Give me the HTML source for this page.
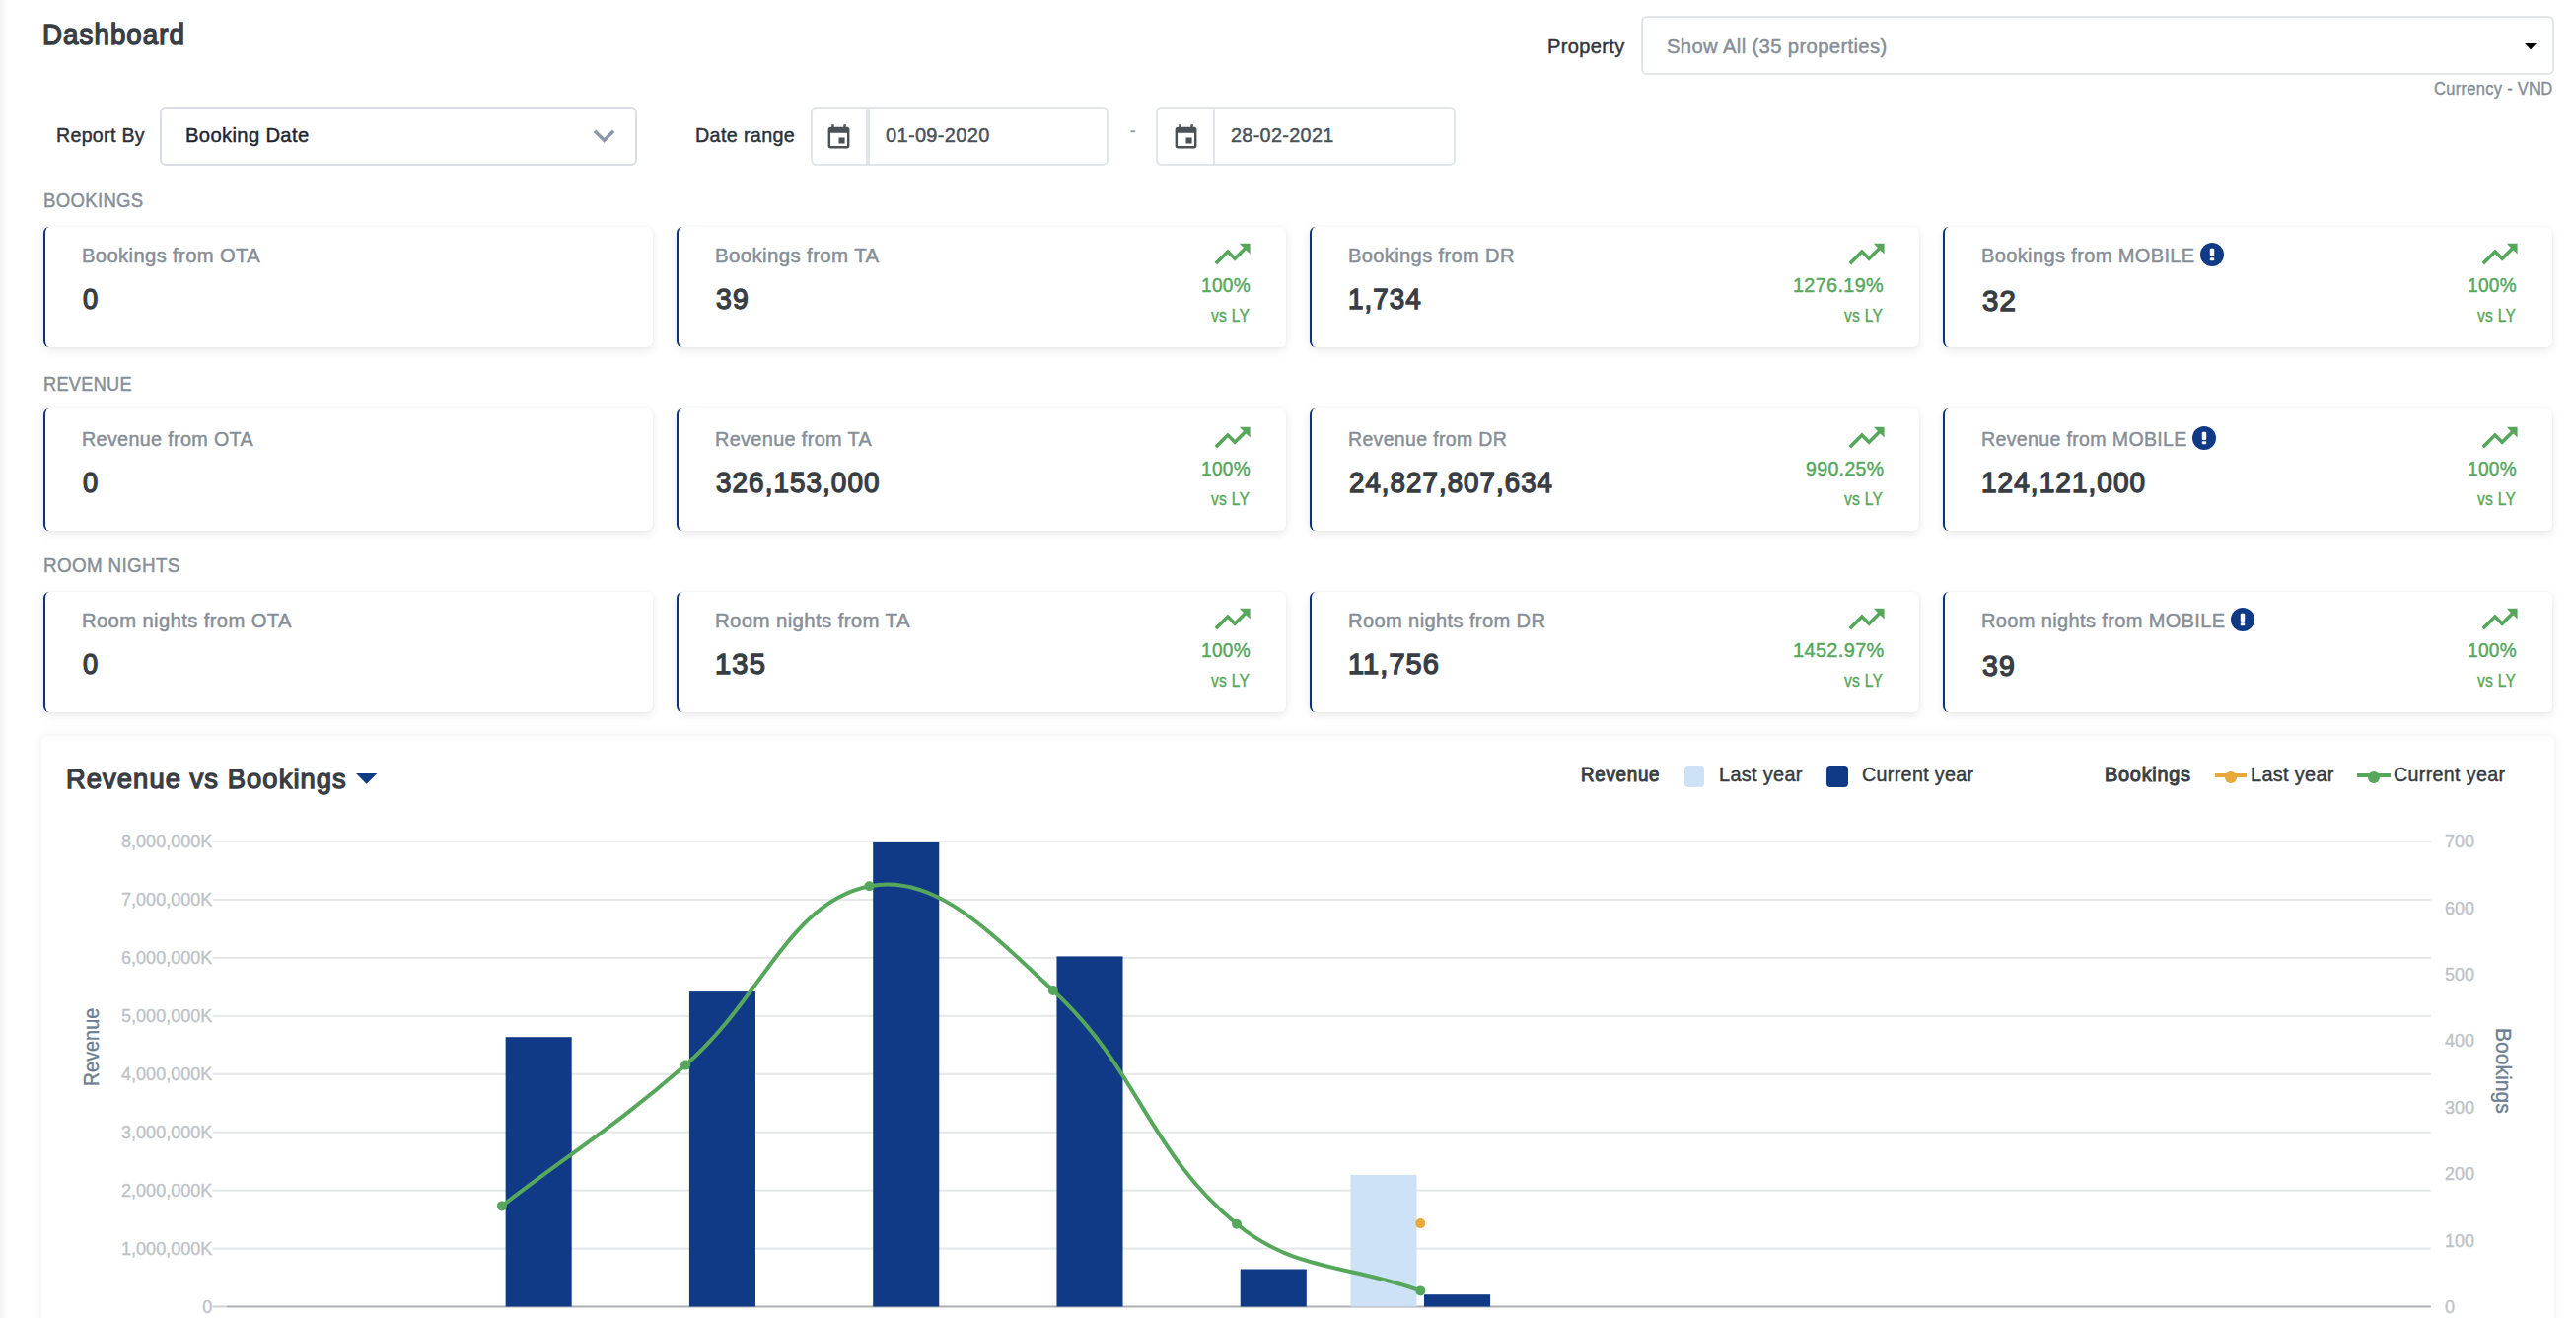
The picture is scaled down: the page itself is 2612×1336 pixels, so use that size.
<!DOCTYPE html>
<html lang="en">
<head>
<meta charset="utf-8">
<title>Dashboard</title>
<style>
*{box-sizing:border-box}
html,body{margin:0;padding:0;width:2612px;height:1336px;overflow:hidden;background:#fff}
.page{position:relative;width:2612px;height:1336px;overflow:hidden;background:#fff;font-family:"Liberation Sans",sans-serif}
h1,h5,h6,label,small,strong,span{margin:0;padding:0;font-weight:400}
header,section,.filters,.legend{position:absolute;left:0;top:0}
.t{position:absolute;white-space:nowrap;transform-origin:0 0;display:block}
.edge{position:absolute;left:0;top:0;width:9px;height:1336px;background:linear-gradient(90deg,rgba(0,0,0,.055),rgba(0,0,0,.015) 55%,rgba(0,0,0,0))}
.box{position:absolute;height:60px;border:2px solid #e3e6e9;border-radius:6px;background:#fff}
.box.sel{border-color:#dadde5}
.addon{position:absolute;left:-2px;top:-2px;width:60px;height:60px;border:2px solid #e3e6e9;border-radius:6px 0 0 6px;border-right-width:4px}
.addon.thin{border-right-width:2px}
.card{position:absolute;width:618px;background:#fff;border-left:2px solid #0d3380;border-radius:6px;box-shadow:0 3px 10px rgba(0,0,0,.09),0 0 3px rgba(0,0,0,.04)}
.panel{position:absolute;left:42px;top:746px;width:2548px;height:640px;background:#fff;border-radius:6px;box-shadow:0 0 14px rgba(0,0,0,.075)}
svg{position:absolute;overflow:visible}
.sq{position:absolute;top:30px;height:22px;border-radius:4px}
.ln{position:absolute;top:38px;height:4px}
.dot{position:absolute;top:36px;width:12px;height:12px;border-radius:50%}
</style>
</head>
<body>
<main class="page">
<div class="edge"></div>
<header>
<h1 class="t" style="left:42.73px;top:18px;font-size:29.5px;line-height:33px;color:#393e44;transform:scaleX(0.9387);letter-spacing:1.13px;-webkit-text-stroke:1.42px #393e44">Dashboard</h1>
<label class="t" style="left:1569.28px;top:35px;font-size:21px;line-height:23px;color:#30353b;transform:scaleX(0.9544);letter-spacing:0.37px;-webkit-text-stroke:0.46px #30353b">Property</label>
<div class="box" style="left:1664px;top:16px;width:926px"><span class="t" style="left:24.23px;top:17px;font-size:21px;line-height:23px;color:#868e96;transform:scaleX(0.9643);letter-spacing:0.37px;-webkit-text-stroke:0.46px #868e96">Show All (35 properties)</span><svg class="caret" style="left:894px;top:25.75px" width="12" height="6.25" viewBox="0 0 12 6.25"><path d="M0 0h12L6 6.25z" fill="#000"/></svg></div>
<small class="t" style="left:2468.29px;top:80px;font-size:17.5px;line-height:20px;color:#868e96;transform:scaleX(0.9429);letter-spacing:0.31px;-webkit-text-stroke:0.38px #868e96">Currency - VND</small>
</header>
<div class="filters">
<label class="t" style="left:56.9px;top:125px;font-size:21px;line-height:23px;color:#2b3038;transform:scaleX(0.9302);letter-spacing:0.37px;-webkit-text-stroke:0.46px #2b3038">Report By</label>
<div class="box sel" style="left:162px;top:108px;width:484px"><span class="t" style="left:24.27px;top:15px;font-size:21px;line-height:23px;color:#1d2531;transform:scaleX(0.9616);letter-spacing:0.37px;-webkit-text-stroke:0.46px #1d2531">Booking Date</span><svg class="chev" style="left:427.4px;top:6.2px" width="43.2" height="43.2" viewBox="0 0 24 24"><path d="M16.59 8.59L12 13.17 7.41 8.59 6 10l6 6 6-6z" fill="#8d98a7"/></svg></div>
<label class="t" style="left:705.39px;top:125px;font-size:21px;line-height:23px;color:#2b3038;transform:scaleX(0.9402);letter-spacing:0.37px;-webkit-text-stroke:0.46px #2b3038">Date range</label>
<div class="box" style="left:822px;top:108px;width:302px"><div class="addon"><svg class="cal" style="left:12.4px;top:14.8px" width="29.04" height="29.04" viewBox="0 0 24 24"><path d="M17 12h-5v5h5v-5zM16 1v2H8V1H6v2H5c-1.11 0-1.99.9-1.99 2L3 19c0 1.1.89 2 2 2h14c1.1 0 2-.9 2-2V5c0-1.1-.9-2-2-2h-1V1h-2zm3 18H5V8h14v11z" fill="#495057"/></svg></div><span class="t" style="left:73.63px;top:15px;font-size:21px;line-height:23px;color:#495057;transform:scaleX(0.9507);letter-spacing:0.37px;-webkit-text-stroke:0.46px #495057">01-09-2020</span></div>
<span class="t" style="left:1146.22px;top:121px;font-size:20px;line-height:22px;color:#9aa1a8;transform:scaleX(0.8267);letter-spacing:0.35px;-webkit-text-stroke:0.44px #9aa1a8">-</span>
<div class="box" style="left:1172px;top:108px;width:303.5px"><div class="addon thin"><svg class="cal" style="left:13.9px;top:14.8px" width="29.04" height="29.04" viewBox="0 0 24 24"><path d="M17 12h-5v5h5v-5zM16 1v2H8V1H6v2H5c-1.11 0-1.99.9-1.99 2L3 19c0 1.1.89 2 2 2h14c1.1 0 2-.9 2-2V5c0-1.1-.9-2-2-2h-1V1h-2zm3 18H5V8h14v11z" fill="#495057"/></svg></div><span class="t" style="left:74.09px;top:15px;font-size:21px;line-height:23px;color:#495057;transform:scaleX(0.9411);letter-spacing:0.37px;-webkit-text-stroke:0.46px #495057">28-02-2021</span></div>
</div>
<section class="stats">
<h6 class="t" style="left:44.05px;top:191px;font-size:21px;line-height:23px;color:#868e96;transform:scaleX(0.8832);letter-spacing:0.37px;-webkit-text-stroke:0.46px #868e96">BOOKINGS</h6>
<div class="card" style="left:44px;top:230px;height:122px"><span class="t title" style="left:37.27px;top:17px;font-size:21px;line-height:23px;color:#868e96;transform:scaleX(0.9639);letter-spacing:0.37px;-webkit-text-stroke:0.46px #868e96">Bookings from OTA</span><strong class="t num" style="left:37.75px;top:57px;font-size:29px;line-height:32px;color:#393e44;transform:scaleX(0.9434);letter-spacing:1.11px;-webkit-text-stroke:1.39px #393e44">0</strong></div>
<div class="card" style="left:686px;top:230px;height:122px"><span class="t title" style="left:37.26px;top:17px;font-size:21px;line-height:23px;color:#868e96;transform:scaleX(0.9745);letter-spacing:0.37px;-webkit-text-stroke:0.46px #868e96">Bookings from TA</span><strong class="t num" style="left:37.72px;top:57px;font-size:29px;line-height:32px;color:#393e44;transform:scaleX(0.9797);letter-spacing:1.11px;-webkit-text-stroke:1.39px #393e44">39</strong><svg class="trend" style="left:540.4px;top:6.3px" width="43.2" height="43.2" viewBox="0 0 24 24"><path d="M16 6l2.29 2.29-4.88 4.88-4-4L2 16.59 3.41 18l6-6 4 4 6.3-6.29L22 12V6z" fill="#56a75c"/></svg><span class="t pct" style="left:530.32px;top:47px;font-size:21px;line-height:23px;color:#56a75c;transform:scaleX(0.9076);letter-spacing:0.37px;-webkit-text-stroke:0.46px #56a75c">100%</span><span class="t" style="left:540.29px;top:80px;font-size:17.5px;line-height:20px;color:#56a75c;transform:scaleX(0.8907);letter-spacing:0.31px;-webkit-text-stroke:0.38px #56a75c">vs LY</span></div>
<div class="card" style="left:1328px;top:230px;height:122px"><span class="t title" style="left:37.27px;top:17px;font-size:21px;line-height:23px;color:#868e96;transform:scaleX(0.9575);letter-spacing:0.37px;-webkit-text-stroke:0.46px #868e96">Bookings from DR</span><strong class="t num" style="left:36.78px;top:57px;font-size:29px;line-height:32px;color:#393e44;transform:scaleX(0.9574);letter-spacing:1.11px;-webkit-text-stroke:1.39px #393e44">1,734</strong><svg class="trend" style="left:540.8px;top:6.3px" width="43.2" height="43.2" viewBox="0 0 24 24"><path d="M16 6l2.29 2.29-4.88 4.88-4-4L2 16.59 3.41 18l6-6 4 4 6.3-6.29L22 12V6z" fill="#56a75c"/></svg><span class="t pct" style="left:488.39px;top:47px;font-size:21px;line-height:23px;color:#56a75c;transform:scaleX(0.9439);letter-spacing:0.37px;-webkit-text-stroke:0.46px #56a75c">1276.19%</span><span class="t" style="left:540.29px;top:80px;font-size:17.5px;line-height:20px;color:#56a75c;transform:scaleX(0.8907);letter-spacing:0.31px;-webkit-text-stroke:0.38px #56a75c">vs LY</span></div>
<div class="card" style="left:1970px;top:230px;height:122px"><span class="t title" style="left:37.28px;top:17px;font-size:21px;line-height:23px;color:#868e96;transform:scaleX(0.9548);letter-spacing:0.37px;-webkit-text-stroke:0.46px #868e96">Bookings from MOBILE</span><svg class="info" style="left:258.7px;top:15.7px" width="24" height="24" viewBox="0 0 24 24"><circle cx="12" cy="12" r="12" fill="#113a86"/><rect x="9.8" y="5.8" width="4.4" height="8.2" rx="1" fill="#fff"/><rect x="9.8" y="15.2" width="4.4" height="3" rx=".8" fill="#fff"/></svg><strong class="t num" style="left:37.68px;top:59px;font-size:29px;line-height:32px;color:#393e44;transform:scaleX(1.0117);letter-spacing:1.11px;-webkit-text-stroke:1.39px #393e44">32</strong><svg class="trend" style="left:541.1px;top:6.3px" width="43.2" height="43.2" viewBox="0 0 24 24"><path d="M16 6l2.29 2.29-4.88 4.88-4-4L2 16.59 3.41 18l6-6 4 4 6.3-6.29L22 12V6z" fill="#56a75c"/></svg><span class="t pct" style="left:530.32px;top:47px;font-size:21px;line-height:23px;color:#56a75c;transform:scaleX(0.9076);letter-spacing:0.37px;-webkit-text-stroke:0.46px #56a75c">100%</span><span class="t" style="left:540.29px;top:80px;font-size:17.5px;line-height:20px;color:#56a75c;transform:scaleX(0.8907);letter-spacing:0.31px;-webkit-text-stroke:0.38px #56a75c">vs LY</span></div>
</section>
<section class="stats">
<h6 class="t" style="left:44.07px;top:377px;font-size:21px;line-height:23px;color:#868e96;transform:scaleX(0.8638);letter-spacing:0.37px;-webkit-text-stroke:0.46px #868e96">REVENUE</h6>
<div class="card" style="left:44px;top:414px;height:124px"><span class="t title" style="left:37.29px;top:19px;font-size:21px;line-height:23px;color:#868e96;transform:scaleX(0.9394);letter-spacing:0.37px;-webkit-text-stroke:0.46px #868e96">Revenue from OTA</span><strong class="t num" style="left:37.75px;top:59px;font-size:29px;line-height:32px;color:#393e44;transform:scaleX(0.9434);letter-spacing:1.11px;-webkit-text-stroke:1.39px #393e44">0</strong></div>
<div class="card" style="left:686px;top:414px;height:124px"><span class="t title" style="left:37.29px;top:19px;font-size:21px;line-height:23px;color:#868e96;transform:scaleX(0.9459);letter-spacing:0.37px;-webkit-text-stroke:0.46px #868e96">Revenue from TA</span><strong class="t num" style="left:37.74px;top:59px;font-size:29px;line-height:32px;color:#393e44;transform:scaleX(0.9597);letter-spacing:1.11px;-webkit-text-stroke:1.39px #393e44">326,153,000</strong><svg class="trend" style="left:540.4px;top:8.3px" width="43.2" height="43.2" viewBox="0 0 24 24"><path d="M16 6l2.29 2.29-4.88 4.88-4-4L2 16.59 3.41 18l6-6 4 4 6.3-6.29L22 12V6z" fill="#56a75c"/></svg><span class="t pct" style="left:530.32px;top:49px;font-size:21px;line-height:23px;color:#56a75c;transform:scaleX(0.9076);letter-spacing:0.37px;-webkit-text-stroke:0.46px #56a75c">100%</span><span class="t" style="left:540.29px;top:82px;font-size:17.5px;line-height:20px;color:#56a75c;transform:scaleX(0.8907);letter-spacing:0.31px;-webkit-text-stroke:0.38px #56a75c">vs LY</span></div>
<div class="card" style="left:1328px;top:414px;height:124px"><span class="t title" style="left:37.3px;top:19px;font-size:21px;line-height:23px;color:#868e96;transform:scaleX(0.9277);letter-spacing:0.37px;-webkit-text-stroke:0.46px #868e96">Revenue from DR</span><strong class="t num" style="left:37.74px;top:59px;font-size:29px;line-height:32px;color:#393e44;transform:scaleX(0.9534);letter-spacing:1.11px;-webkit-text-stroke:1.39px #393e44">24,827,807,634</strong><svg class="trend" style="left:540.8px;top:8.3px" width="43.2" height="43.2" viewBox="0 0 24 24"><path d="M16 6l2.29 2.29-4.88 4.88-4-4L2 16.59 3.41 18l6-6 4 4 6.3-6.29L22 12V6z" fill="#56a75c"/></svg><span class="t pct" style="left:500.93px;top:49px;font-size:21px;line-height:23px;color:#56a75c;transform:scaleX(0.9300);letter-spacing:0.37px;-webkit-text-stroke:0.46px #56a75c">990.25%</span><span class="t" style="left:540.29px;top:82px;font-size:17.5px;line-height:20px;color:#56a75c;transform:scaleX(0.8907);letter-spacing:0.31px;-webkit-text-stroke:0.38px #56a75c">vs LY</span></div>
<div class="card" style="left:1970px;top:414px;height:124px"><span class="t title" style="left:37.3px;top:19px;font-size:21px;line-height:23px;color:#868e96;transform:scaleX(0.9313);letter-spacing:0.37px;-webkit-text-stroke:0.46px #868e96">Revenue from MOBILE</span><svg class="info" style="left:250.9px;top:17.7px" width="24" height="24" viewBox="0 0 24 24"><circle cx="12" cy="12" r="12" fill="#113a86"/><rect x="9.8" y="5.8" width="4.4" height="8.2" rx="1" fill="#fff"/><rect x="9.8" y="15.2" width="4.4" height="3" rx=".8" fill="#fff"/></svg><strong class="t num" style="left:36.77px;top:59px;font-size:29px;line-height:32px;color:#393e44;transform:scaleX(0.9636);letter-spacing:1.11px;-webkit-text-stroke:1.39px #393e44">124,121,000</strong><svg class="trend" style="left:541.1px;top:8.3px" width="43.2" height="43.2" viewBox="0 0 24 24"><path d="M16 6l2.29 2.29-4.88 4.88-4-4L2 16.59 3.41 18l6-6 4 4 6.3-6.29L22 12V6z" fill="#56a75c"/></svg><span class="t pct" style="left:530.32px;top:49px;font-size:21px;line-height:23px;color:#56a75c;transform:scaleX(0.9076);letter-spacing:0.37px;-webkit-text-stroke:0.46px #56a75c">100%</span><span class="t" style="left:540.29px;top:82px;font-size:17.5px;line-height:20px;color:#56a75c;transform:scaleX(0.8907);letter-spacing:0.31px;-webkit-text-stroke:0.38px #56a75c">vs LY</span></div>
</section>
<section class="stats">
<h6 class="t" style="left:43.93px;top:561px;font-size:21px;line-height:23px;color:#868e96;transform:scaleX(0.8972);letter-spacing:0.37px;-webkit-text-stroke:0.46px #868e96">ROOM NIGHTS</h6>
<div class="card" style="left:44px;top:600px;height:122px"><span class="t title" style="left:37.27px;top:17px;font-size:21px;line-height:23px;color:#868e96;transform:scaleX(0.9651);letter-spacing:0.37px;-webkit-text-stroke:0.46px #868e96">Room nights from OTA</span><strong class="t num" style="left:37.75px;top:57px;font-size:29px;line-height:32px;color:#393e44;transform:scaleX(0.9434);letter-spacing:1.11px;-webkit-text-stroke:1.39px #393e44">0</strong></div>
<div class="card" style="left:686px;top:600px;height:122px"><span class="t title" style="left:37.26px;top:17px;font-size:21px;line-height:23px;color:#868e96;transform:scaleX(0.9726);letter-spacing:0.37px;-webkit-text-stroke:0.46px #868e96">Room nights from TA</span><strong class="t num" style="left:36.69px;top:57px;font-size:29px;line-height:32px;color:#393e44;transform:scaleX(1.0047);letter-spacing:1.11px;-webkit-text-stroke:1.39px #393e44">135</strong><svg class="trend" style="left:540.4px;top:6.3px" width="43.2" height="43.2" viewBox="0 0 24 24"><path d="M16 6l2.29 2.29-4.88 4.88-4-4L2 16.59 3.41 18l6-6 4 4 6.3-6.29L22 12V6z" fill="#56a75c"/></svg><span class="t pct" style="left:530.32px;top:47px;font-size:21px;line-height:23px;color:#56a75c;transform:scaleX(0.9076);letter-spacing:0.37px;-webkit-text-stroke:0.46px #56a75c">100%</span><span class="t" style="left:540.29px;top:80px;font-size:17.5px;line-height:20px;color:#56a75c;transform:scaleX(0.8907);letter-spacing:0.31px;-webkit-text-stroke:0.38px #56a75c">vs LY</span></div>
<div class="card" style="left:1328px;top:600px;height:122px"><span class="t title" style="left:37.27px;top:17px;font-size:21px;line-height:23px;color:#868e96;transform:scaleX(0.9588);letter-spacing:0.37px;-webkit-text-stroke:0.46px #868e96">Room nights from DR</span><strong class="t num" style="left:36.7px;top:57px;font-size:29px;line-height:32px;color:#393e44;transform:scaleX(0.9980);letter-spacing:1.11px;-webkit-text-stroke:1.39px #393e44">11,756</strong><svg class="trend" style="left:540.8px;top:6.3px" width="43.2" height="43.2" viewBox="0 0 24 24"><path d="M16 6l2.29 2.29-4.88 4.88-4-4L2 16.59 3.41 18l6-6 4 4 6.3-6.29L22 12V6z" fill="#56a75c"/></svg><span class="t pct" style="left:487.78px;top:47px;font-size:21px;line-height:23px;color:#56a75c;transform:scaleX(0.9502);letter-spacing:0.37px;-webkit-text-stroke:0.46px #56a75c">1452.97%</span><span class="t" style="left:540.29px;top:80px;font-size:17.5px;line-height:20px;color:#56a75c;transform:scaleX(0.8907);letter-spacing:0.31px;-webkit-text-stroke:0.38px #56a75c">vs LY</span></div>
<div class="card" style="left:1970px;top:600px;height:122px"><span class="t title" style="left:37.28px;top:17px;font-size:21px;line-height:23px;color:#868e96;transform:scaleX(0.9539);letter-spacing:0.37px;-webkit-text-stroke:0.46px #868e96">Room nights from MOBILE</span><svg class="info" style="left:289.6px;top:15.7px" width="24" height="24" viewBox="0 0 24 24"><circle cx="12" cy="12" r="12" fill="#113a86"/><rect x="9.8" y="5.8" width="4.4" height="8.2" rx="1" fill="#fff"/><rect x="9.8" y="15.2" width="4.4" height="3" rx=".8" fill="#fff"/></svg><strong class="t num" style="left:37.72px;top:59px;font-size:29px;line-height:32px;color:#393e44;transform:scaleX(0.9797);letter-spacing:1.11px;-webkit-text-stroke:1.39px #393e44">39</strong><svg class="trend" style="left:541.1px;top:6.3px" width="43.2" height="43.2" viewBox="0 0 24 24"><path d="M16 6l2.29 2.29-4.88 4.88-4-4L2 16.59 3.41 18l6-6 4 4 6.3-6.29L22 12V6z" fill="#56a75c"/></svg><span class="t pct" style="left:530.32px;top:47px;font-size:21px;line-height:23px;color:#56a75c;transform:scaleX(0.9076);letter-spacing:0.37px;-webkit-text-stroke:0.46px #56a75c">100%</span><span class="t" style="left:540.29px;top:80px;font-size:17.5px;line-height:20px;color:#56a75c;transform:scaleX(0.8907);letter-spacing:0.31px;-webkit-text-stroke:0.38px #56a75c">vs LY</span></div>
</section>
<section class="panel">
<h5 class="t" style="left:24.82px;top:28px;font-size:28px;line-height:31px;color:#393e44;transform:scaleX(0.9776);letter-spacing:1.08px;-webkit-text-stroke:1.34px #393e44">Revenue vs Bookings</h5>
<svg class="caret" style="left:318.5px;top:37.8px" width="21.4" height="10.8" viewBox="0 0 21.4 10.8"><path d="M0 0h21.4L10.7 10.8z" fill="#113a86"/></svg>
<div class="legend">
<strong class="t" style="left:1561.14px;top:28px;font-size:20px;line-height:22px;color:#393e44;transform:scaleX(0.9389);letter-spacing:0.77px;-webkit-text-stroke:0.96px #393e44">Revenue</strong>
<i class="sq" style="left:1666px;width:20px;background:#cde2f6"></i><span class="t" style="left:1701.49px;top:27px;font-size:21px;line-height:23px;color:#343a40;transform:scaleX(0.9445);letter-spacing:0.37px;-webkit-text-stroke:0.46px #343a40">Last year</span>
<i class="sq" style="left:1810px;width:22px;background:#113a86"></i><span class="t" style="left:1846.49px;top:27px;font-size:21px;line-height:23px;color:#343a40;transform:scaleX(0.9362);letter-spacing:0.37px;-webkit-text-stroke:0.46px #343a40">Current year</span>
<strong class="t" style="left:2091.99px;top:28px;font-size:20px;line-height:22px;color:#393e44;transform:scaleX(0.9929);letter-spacing:0.77px;-webkit-text-stroke:0.96px #393e44">Bookings</strong>
<i class="ln" style="left:2204px;width:32px;background:#e8a83c"></i><i class="dot" style="left:2214.2px;background:#e8a83c"></i><span class="t" style="left:2239.89px;top:27px;font-size:21px;line-height:23px;color:#343a40;transform:scaleX(0.9456);letter-spacing:0.37px;-webkit-text-stroke:0.46px #343a40">Last year</span>
<i class="ln" style="left:2348px;width:34px;background:#56a75c"></i><i class="dot" style="left:2359px;background:#56a75c"></i><span class="t" style="left:2385px;top:27px;font-size:21px;line-height:23px;color:#343a40;transform:scaleX(0.9353);letter-spacing:0.37px;-webkit-text-stroke:0.46px #343a40">Current year</span>
</div>
<svg class="chart" style="left:-42px;top:-746px" width="2612" height="1336" viewBox="0 0 2612 1336" font-family="'Liberation Sans', sans-serif">
<rect x="215.5" y="852" width="2249.3" height="2" fill="#e5e7e8"/>
<rect x="215.5" y="910.94" width="2249.3" height="2" fill="#e5e7e8"/>
<rect x="215.5" y="969.88" width="2249.3" height="2" fill="#e5e7e8"/>
<rect x="215.5" y="1028.81" width="2249.3" height="2" fill="#e5e7e8"/>
<rect x="215.5" y="1087.75" width="2249.3" height="2" fill="#e5e7e8"/>
<rect x="215.5" y="1146.69" width="2249.3" height="2" fill="#e5e7e8"/>
<rect x="215.5" y="1205.62" width="2249.3" height="2" fill="#e5e7e8"/>
<rect x="215.5" y="1264.56" width="2249.3" height="2" fill="#e5e7e8"/>
<rect x="215.5" y="1323.5" width="13.5" height="2" fill="#cfd1d3"/>
<rect x="229.5" y="1323.5" width="2235.3" height="2" fill="#adafb2"/>
<g font-size="18" fill="#bdc2c7" stroke="#bdc2c7" stroke-width=".35" text-anchor="end">
<text x="215.2" y="859.4">8,000,000K</text>
<text x="215.2" y="918.34">7,000,000K</text>
<text x="215.2" y="977.27">6,000,000K</text>
<text x="215.2" y="1036.21">5,000,000K</text>
<text x="215.2" y="1095.15">4,000,000K</text>
<text x="215.2" y="1154.09">3,000,000K</text>
<text x="215.2" y="1213.03">2,000,000K</text>
<text x="215.2" y="1271.96">1,000,000K</text>
<text x="215.2" y="1330.9">0</text>
</g>
<g font-size="18" fill="#bdc2c7" stroke="#bdc2c7" stroke-width=".35">
<text x="2479" y="859.4">700</text>
<text x="2479" y="926.76">600</text>
<text x="2479" y="994.11">500</text>
<text x="2479" y="1061.47">400</text>
<text x="2479" y="1128.83">300</text>
<text x="2479" y="1196.19">200</text>
<text x="2479" y="1263.54">100</text>
<text x="2479" y="1330.9">0</text>
</g>
<text transform="translate(100.2 1061.5) rotate(-90)" font-size="22" fill="#6c8093" stroke="#6c8093" stroke-width=".4" text-anchor="middle" textLength="79.5" lengthAdjust="spacingAndGlyphs">Revenue</text>
<text transform="translate(2531.3 1085.4) rotate(90)" font-size="22" fill="#6c8093" stroke="#6c8093" stroke-width=".4" text-anchor="middle" textLength="87" lengthAdjust="spacingAndGlyphs">Bookings</text>
<rect x="1369.5" y="1190.9" width="67.06" height="133.6" fill="#cde2f6"/>
<rect x="512.64" y="1051.2" width="67.06" height="273.3" fill="#113a86"/>
<rect x="698.91" y="1005.1" width="67.06" height="319.4" fill="#113a86"/>
<rect x="885.19" y="853.5" width="67.06" height="471" fill="#113a86"/>
<rect x="1071.46" y="969.4" width="67.06" height="355.1" fill="#113a86"/>
<rect x="1257.74" y="1286.5" width="67.06" height="38" fill="#113a86"/>
<rect x="1444.01" y="1312.2" width="67.06" height="12.3" fill="#113a86"/>
<path d="M508.91 1222.4 C583.42 1165.28 624.48 1141.11 695.19 1079.6 C773.5 1011.47 799.75 914.9 881.46 898.3 C948.77 884.62 1005.84 946.99 1067.74 1003.9 C1154.86 1083.99 1164.11 1167.32 1254.01 1240.8 C1313.13 1289.12 1365.78 1281.36 1440.29 1308.4" fill="none" stroke="#56a75c" stroke-width="4" stroke-linecap="round"/>
<circle cx="508.91" cy="1222.4" r="5" fill="#56a75c"/>
<circle cx="695.19" cy="1079.6" r="5" fill="#56a75c"/>
<circle cx="881.46" cy="898.3" r="5" fill="#56a75c"/>
<circle cx="1067.74" cy="1003.9" r="5" fill="#56a75c"/>
<circle cx="1254.01" cy="1240.8" r="5" fill="#56a75c"/>
<circle cx="1440.29" cy="1308.4" r="5" fill="#56a75c"/>
<circle cx="1440.29" cy="1240.1" r="5" fill="#e8a83c"/>
</svg>
</section>
</main>
</body>
</html>
